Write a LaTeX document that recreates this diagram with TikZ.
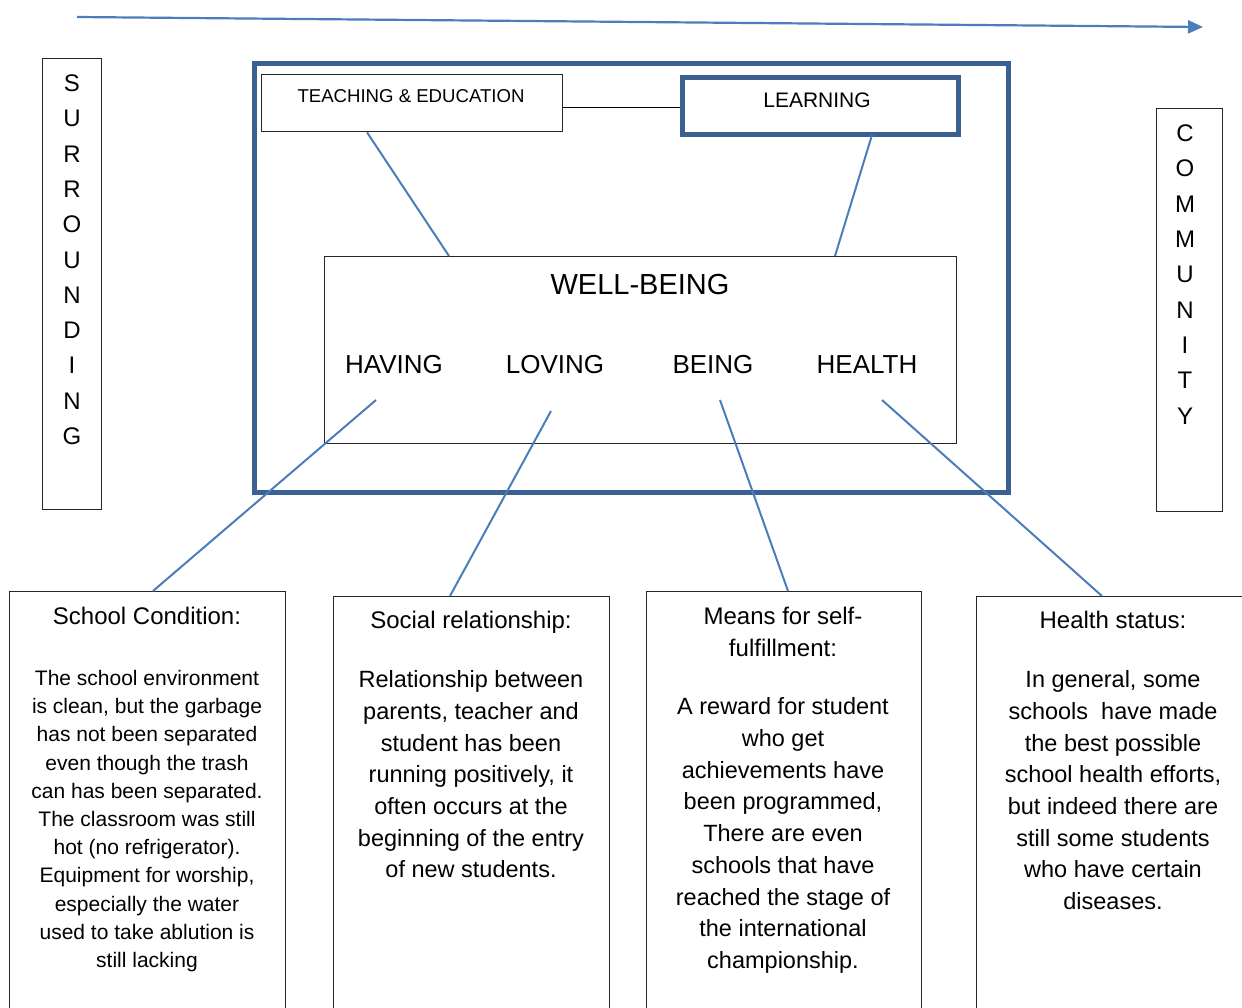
\documentclass[tikz,border=0pt]{standalone}
\usepackage{fontspec}
\setmainfont{Liberation Sans}
\usetikzlibrary{arrows.meta,calc}
\definecolor{lineblue}{HTML}{4A7EBB}
\definecolor{frameblue}{HTML}{3B6193}
\begin{document}
\begin{tikzpicture}[x=1pt,y=-1pt,
  box/.style={draw=black!85, line width=1.3pt, inner sep=0pt, anchor=north west},
  conn/.style={draw=lineblue, line width=2pt},
  letter/.style={anchor=base, inner sep=0pt, font=\fontsize{24}{24}\selectfont},
  lbl/.style={anchor=base, inner sep=0pt},
  ttl/.style={anchor=base, inner sep=0pt, font=\fontsize{24}{24}\selectfont},
  bodyA/.style={anchor=base, inner sep=0pt, font=\fontsize{21}{21}\selectfont},
  bodyB/.style={anchor=base, inner sep=0pt, font=\fontsize{23.5}{23.5}\selectfont}]
\path[use as bounding box] (0,0) rectangle (1242,1007);
\clip (0,0) rectangle (1242,1007);

% top arrow
\coordinate (arrS) at (77,17);
\coordinate (arrE) at (1203,27);
\draw[lineblue, line width=2.2pt, -{Triangle[length=15pt,width=13pt]}] (arrS) -- (arrE);

% side boxes
\node[box, minimum width=59pt, minimum height=451pt] (surr) at (42,58) {};
\foreach \l [count=\i from 0] in {S,U,R,R,O,U,N,D,I,N,G}
  \node[letter] (s\i) at (72,{91.5+35.3*\i}) {\l};
\node[box, minimum width=66pt, minimum height=403pt] (comm) at (1156,108) {};
\foreach \l [count=\i from 0] in {C,O,M,M,U,N,I,T,Y}
  \node[letter] (c\i) at (1185,{141.6+35.3*\i}) {\l};

% outer frame
\node[draw=frameblue, line width=5pt, anchor=north west, inner sep=0pt,
      minimum width=754pt, minimum height=429pt] (frame) at (252,61) {};

% teaching & learning
\node[box, minimum width=301pt, minimum height=57pt] (tch) at (261,74) {};
\node[lbl, font=\fontsize{18.6}{18.6}\selectfont] (tchT) at (411,102) {TEACHING \& EDUCATION};
\node[draw=frameblue, line width=5pt, anchor=north west, inner sep=0pt,
      minimum width=276pt, minimum height=57pt] (lrn) at (680,75) {};
\node[lbl, font=\fontsize{21}{21}\selectfont] (lrnT) at (817,107.5) {LEARNING};
\coordinate (tcm) at ($(tch.east)+(0,4.5)$);
\draw[black, line width=1.6pt] (tcm) -- (tcm -| lrn.west);

% well-being
\node[box, minimum width=632pt, minimum height=187pt] (wb) at (324,256) {};
\node[lbl, font=\fontsize{29}{29}\selectfont] (wbT) at (640,294.5) {WELL-BEING};
\node[lbl, font=\fontsize{26}{26}\selectfont] (having) at (394,373) {HAVING};
\node[lbl, font=\fontsize{26}{26}\selectfont] (loving) at (555,373) {LOVING};
\node[lbl, font=\fontsize{26}{26}\selectfont] (being) at (713,373) {BEING};
\node[lbl, font=\fontsize{26}{26}\selectfont] (health) at (867,373) {HEALTH};

\draw[conn] ($(tch.south west)+(106,0)$) -- ($(wb.north west)+(125,0)$);
\draw[conn] ($(lrn.south west)+(192,-2)$) -- ($(wb.north west)+(511,0)$);

% bottom boxes
\node[box, minimum width=276pt, minimum height=430pt] (sc) at (9,591) {};
\node[box, minimum width=276pt, minimum height=430pt] (sr) at (333,596) {};
\node[box, minimum width=275pt, minimum height=430pt] (mf) at (646,591) {};
\node[box, minimum width=275pt, minimum height=430pt] (hs) at (976,596) {};

% connectors from well-being items
\coordinate (havP) at (376,400);
\coordinate (lovP) at (551,411);
\coordinate (beiP) at (720,400);
\coordinate (heaP) at (882,400);
\draw[conn] (havP) -- ($(sc.north west)+(144,0)$);
\draw[conn] (lovP) -- ($(sr.north west)+(117,0)$);
\draw[conn] (beiP) -- ($(mf.north west)+(142,0)$);
\draw[conn] (heaP) -- ($(hs.north west)+(126,0)$);

% texts
\node[ttl] (scT) at (147,624.6) {School Condition:};
\foreach \t [count=\i from 0] in {The school environment,{is clean, but the garbage},has not been separated,even though the trash,can has been separated.,The classroom was still,hot (no refrigerator).,{Equipment for worship,},especially the water,used to take ablution is,still lacking}
  \node[bodyA] (scL\i) at (147,{685.5+28.2*\i}) {\t};

\node[ttl] (srT) at (471,628.6) {Social relationship:};
\foreach \t [count=\i from 0] in {Relationship between,{parents, teacher and},student has been,{running positively, it},often occurs at the,beginning of the entry,of new students.}
  \node[bodyB] (srL\i) at (471,{687.6+31.7*\i}) {\t};

\node[ttl] (mfT1) at (783,624.6) {Means for self-};
\node[ttl] (mfT2) at (783,656.6) {fulfillment:};
\foreach \t [count=\i from 0] in {A reward for student,who get,achievements have,{been programmed,},There are even,schools that have,reached the stage of,the international,championship.}
  \node[bodyB] (mfL\i) at (783,{714.6+31.75*\i}) {\t};

\node[ttl] (hsT) at (1113,628.6) {Health status:};
\foreach \t [count=\i from 0] in {{In general, some},schools\ \ have made,the best possible,{school health efforts,},but indeed there are,still some students,who have certain,diseases.}
  \node[bodyB] (hsL\i) at (1113,{687.6+31.7*\i}) {\t};
\end{tikzpicture}
\end{document}
